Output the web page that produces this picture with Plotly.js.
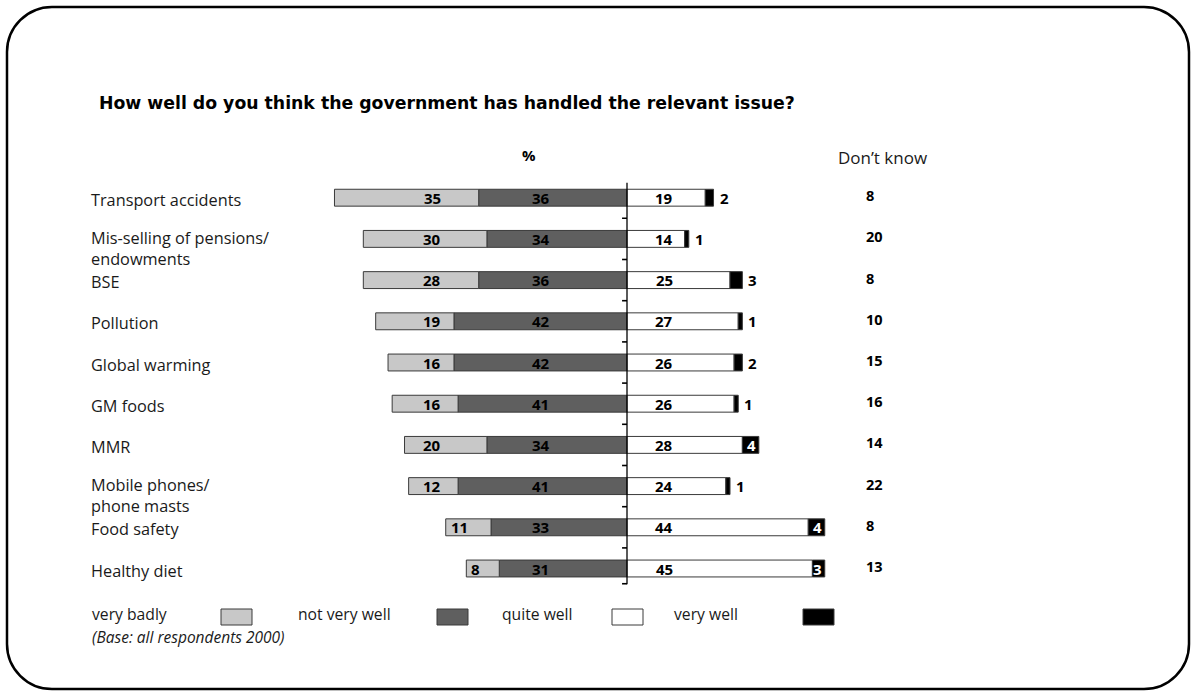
<!DOCTYPE html>
<html>
<head>
<meta charset="utf-8">
<script src="https://cdn.plot.ly/plotly-3.0.1.min.js"></script>
<style>html,body{margin:0;padding:0;background:#fff;}#chart{width:1192px;height:692px;}</style>
</head>
<body>
<div id="chart"></div>
<script>
// ---- data ----
var categories = ['Transport accidents','Mis-selling of pensions/<br>endowments','BSE','Pollution','Global warming','GM foods','MMR','Mobile phones/<br>phone masts','Food safety','Healthy diet'];
var veryBadly   = [35,30,28,19,16,16,20,12,11,8];
var notVeryWell = [36,34,36,42,42,41,34,41,33,31];
var quiteWell   = [19,14,25,27,26,26,28,24,44,45];
var veryWell    = [2,1,3,1,2,1,4,1,4,3];
var dontKnow    = [8,20,8,10,15,16,14,22,8,13];
var seriesNames = ['very badly','not very well','quite well','very well'];

// ---- styling ----
var W = 1192, H = 692;
var FONT = '"Open Sans", "Liberation Sans", sans-serif';
var TFONT = '"DejaVu Sans", "Open Sans", sans-serif';
var colors = {vb:'#c8c8c8', nvw:'#5f5f5f', qw:'#ffffff', vw:'#000000'};
var outline = {color:'#3a3a3a', width:1};
var veryWellInside = [false,false,false,false,false,false,true,false,true,true];
var k = 4.12, cx = 627, xmin = -75, xmax = 65;
function px(x){return x/W;}
function py(y){return 1 - y/H;}
var rowTop = 197.7 - 20.6, rowBot = 568.5 + 20.6;

function barTrace(vals, sign, color){
  return {type:'bar', orientation:'h', y:categories, x:vals.map(function(v){return sign*v;}),
    width:0.41, marker:{color:color, line:outline}, hoverinfo:'skip', showlegend:false};
}
var traces = [
  barTrace(notVeryWell,-1,colors.nvw),
  barTrace(veryBadly,-1,colors.vb),
  barTrace(quiteWell,1,colors.qw),
  barTrace(veryWell,1,colors.vw)
];

var ann = [];
var LBL = 15;
var bold = {family:FONT, size:LBL, color:'#000', weight:700};
categories.forEach(function(c,i){
  var leftTotal = notVeryWell[i] + veryBadly[i];
  if (leftTotal >= 50) {
    ann.push({x:-47.3, y:c, xref:'x', yref:'y', text:'<b>'+veryBadly[i]+'</b>', showarrow:false, font:bold, xanchor:'center'});
  } else {
    ann.push({x:-leftTotal, y:c, xref:'x', yref:'y', text:'<b>'+veryBadly[i]+'</b>', showarrow:false, font:bold, xanchor:'left', xshift:3});
  }
  ann.push({x:-20.9, y:c, xref:'x', yref:'y', text:'<b>'+notVeryWell[i]+'</b>', showarrow:false, font:bold, xanchor:'center'});
  ann.push({x:9, y:c, xref:'x', yref:'y', text:'<b>'+quiteWell[i]+'</b>', showarrow:false, font:bold, xanchor:'center'});
  var rt = quiteWell[i] + veryWell[i];
  if (veryWellInside[i]) {
    ann.push({x:rt, y:c, xref:'x', yref:'y', text:'<b>'+veryWell[i]+'</b>', showarrow:false,
      font:{family:FONT, size:LBL, color:'#fff', weight:700}, xanchor:'right', xshift:-1});
  } else {
    ann.push({x:rt, y:c, xref:'x', yref:'y', text:'<b>'+veryWell[i]+'</b>', showarrow:false, font:bold, xanchor:'left', xshift:4});
  }
  ann.push({x:px(864), y:c, xref:'paper', yref:'y', text:'<b>'+dontKnow[i]+'</b>', showarrow:false,
    font:{family:FONT, size:14.5, color:'#000', weight:700}, xanchor:'left', yshift:2});
  var lines = c.split('<br>').length;
  ann.push({x:px(89), y:c, xref:'paper', yref:'y', text:c, showarrow:false, align:'left',
    font:{family:FONT, size:16.3, color:'#1a1a1a'}, xanchor:'left', yanchor:'middle', yshift:-2-(lines-1)*7.5});
});

// headers & notes
ann.push({x:px(97), y:py(103), xref:'paper', yref:'paper', text:'<b>How well do you think the government has handled the relevant issue?</b>',
  showarrow:false, xanchor:'left', yanchor:'middle', font:{family:TFONT, size:17.3, color:'#000', weight:700}});
ann.push({x:px(529), y:py(155), xref:'paper', yref:'paper', text:'<b>%</b>', showarrow:false, xanchor:'center', yanchor:'middle',
  font:{family:FONT, size:15, color:'#000', weight:700}});
ann.push({x:px(836), y:py(157), xref:'paper', yref:'paper', text:'Don’t know', showarrow:false, xanchor:'left', yanchor:'middle',
  font:{family:FONT, size:17, color:'#1a1a1a'}});
ann.push({x:px(90), y:py(637), xref:'paper', yref:'paper', text:'<i>(Base: all respondents 2000)</i>', showarrow:false, xanchor:'left', yanchor:'middle',
  font:{family:FONT, size:15.5, color:'#1a1a1a'}});

// legend (text + box to its right)
var legText = [90, 296, 500, 672];
var legBox = [221, 437, 612, 803];
var legCols = [colors.vb, colors.nvw, colors.qw, colors.vw];
var shapes = [];
seriesNames.forEach(function(n,i){
  ann.push({x:px(legText[i]), y:py(614), xref:'paper', yref:'paper', text:n, showarrow:false, xanchor:'left', yanchor:'middle',
    font:{family:FONT, size:15.7, color:'#1a1a1a'}});
  shapes.push({type:'rect', xref:'paper', yref:'paper', x0:px(legBox[i]), x1:px(legBox[i]+31), y0:py(625), y1:py(609),
    fillcolor:legCols[i], line:{color:'#3a3a3a', width:1}});
});

// center axis line and ticks
shapes.push({type:'line', xref:'x', yref:'y', x0:0, x1:0, y0:-0.36, y1:9.38, line:{color:'#000', width:1.3}});
for (var t = 0; t < categories.length; t++) {
  var yy = (t < categories.length - 1) ? t + 0.5 : 9.37;
  shapes.push({type:'line', xref:'x', yref:'y', x0:-1.2, x1:0, y0:yy, y1:yy, line:{color:'#000', width:1.6}});
}

// rounded frame
(function(){
  var L = 7, R = 1189, T = 7, B = 689, r = 45, kk = 0.5523;
  function P(x,y){return px(x).toFixed(5)+','+py(y).toFixed(5);}
  var d = 'M'+P(L+r,T)+' L'+P(R-r,T)+
    ' C'+P(R-r+r*kk,T)+' '+P(R,T+r-r*kk)+' '+P(R,T+r)+
    ' L'+P(R,B-r)+
    ' C'+P(R,B-r+r*kk)+' '+P(R-r+r*kk,B)+' '+P(R-r,B)+
    ' L'+P(L+r,B)+
    ' C'+P(L+r-r*kk,B)+' '+P(L,B-r+r*kk)+' '+P(L,B-r)+
    ' L'+P(L,T+r)+
    ' C'+P(L,T+r-r*kk)+' '+P(L+r-r*kk,T)+' '+P(L+r,T)+' Z';
  shapes.push({type:'path', xref:'paper', yref:'paper', path:d, line:{color:'#000', width:2.5}, layer:'below'});
})();

var layout = {
  width:W, height:H, autosize:false,
  margin:{l:0,r:0,t:0,b:0,pad:0},
  paper_bgcolor:'#fff', plot_bgcolor:'rgba(0,0,0,0)',
  barmode:'relative', bargap:0,
  showlegend:false,
  xaxis:{range:[xmin,xmax], domain:[px(cx + xmin*k), px(cx + xmax*k)], visible:false, fixedrange:true},
  yaxis:{type:'category', range:[9.5,-0.5], domain:[py(rowBot), py(rowTop)], visible:false, fixedrange:true},
  annotations:ann,
  shapes:shapes,
  font:{family:FONT}
};
Plotly.newPlot('chart', traces, layout, {displayModeBar:false, staticPlot:true});
</script>
</body>
</html>
